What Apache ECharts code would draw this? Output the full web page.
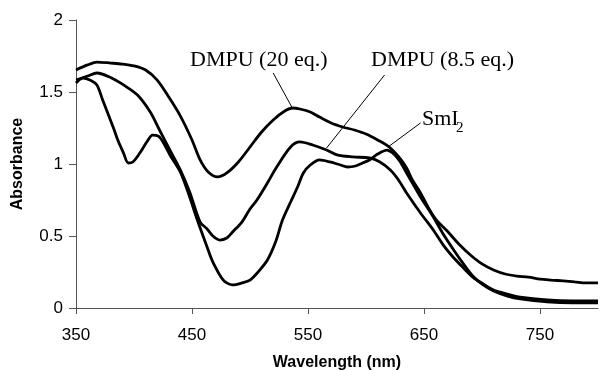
<!DOCTYPE html>
<html>
<head>
<meta charset="utf-8">
<script src="https://cdn.jsdelivr.net/npm/echarts@6/dist/echarts.min.js"></script>
<style>html,body{margin:0;padding:0;background:#fff}#c{width:600px;height:370px}</style>
</head>
<body>
<div id="c"></div>
<script>
// DMPU (20 eq.)
var wl20 = [350,360,368,380,390,400,410,420,430,440,450,457,464,472,480,490,500,510,520,530,537,543,552,560,570,580,590,600,610,620,629,635,640,647,653,660,670,680,690,700,710,720,730,740,750,760,770,780,790,800];
var abs20 = [1.653,1.688,1.708,1.701,1.694,1.681,1.653,1.583,1.465,1.333,1.167,1.028,0.944,0.910,0.938,1.014,1.118,1.222,1.306,1.368,1.389,1.382,1.361,1.326,1.285,1.257,1.236,1.208,1.167,1.118,1.042,0.972,0.889,0.799,0.708,0.618,0.535,0.444,0.368,0.306,0.264,0.236,0.222,0.215,0.201,0.194,0.188,0.181,0.174,0.174];
// DMPU (8.5 eq.)
var wl85 = [350,360,368,379,391,403,414,422,431,440,448,457,463,468,474,480,485,493,500,506,515,523,535,543,554,566,575,589,603,612,621,628,635,647,658,666,675,684,692,701,710,722,733,756,778,800];
var abs85 = [1.583,1.611,1.632,1.604,1.549,1.479,1.361,1.236,1.097,0.958,0.806,0.597,0.549,0.5,0.472,0.486,0.528,0.597,0.688,0.75,0.868,0.979,1.118,1.153,1.132,1.097,1.063,1.049,1.042,1.014,0.958,0.889,0.799,0.660,0.542,0.444,0.354,0.278,0.215,0.167,0.125,0.097,0.076,0.056,0.049,0.049];
// SmI2
var wlSm = [350,356,362,368,373,378,382,386,391,395,399,405,411,416,421,425,431,440,448,454,463,468,477,485,493,500,507,515,522,528,535,541,546,552,560,569,578,584,591,597,603,610,618,623,629,635,641,647,658,666,675,684,692,701,710,722,733,756,778,800];
var absSm = [1.563,1.597,1.583,1.549,1.444,1.340,1.257,1.167,1.076,1.007,1.014,1.076,1.153,1.201,1.194,1.153,1.063,0.944,0.771,0.625,0.424,0.319,0.194,0.160,0.174,0.194,0.25,0.333,0.458,0.611,0.736,0.840,0.938,0.993,1.028,1.014,0.993,0.979,0.986,1.007,1.028,1.069,1.097,1.076,1.021,0.938,0.854,0.771,0.632,0.521,0.410,0.306,0.222,0.160,0.118,0.083,0.063,0.042,0.035,0.035];

var xTicks = [350,450,550,650,750];
var yTicks = [0,0.5,1,1.5,2];

// leader lines (data coordinates: [wavelength, absorbance])
var lead20 = [[520,1.632],[536,1.396]];
var lead85 = [[616,1.618],[566,1.111]];
var leadSm = [[647,1.285],[619,1.118]];

function pairs(xs, ys){ return xs.map(function(x,i){ return [x, ys[i]]; }); }
function leader(p){
  return {
    silent:true, symbol:['none','none'], animation:false,
    lineStyle:{color:'#000', width:1, type:'solid'},
    label:{show:false},
    data:[[{coord:p[0]},{coord:p[1]}]]
  };
}

var chart = echarts.init(document.getElementById('c'), null, {renderer:'canvas'});
var lineStyle = {color:'#000', width:2.8};
chart.setOption({
  animation:false,
  backgroundColor:'#fff',
  grid:{left:76, right:2, top:20, bottom:62, containLabel:false, outerBoundsMode:'none'},
  xAxis:{
    type:'value', min:350, max:800,
    name:'Wavelength (nm)', nameLocation:'middle', nameGap:47,
    nameTextStyle:{fontFamily:'Liberation Sans', fontWeight:'bold', fontSize:16, color:'#000'},
    axisLine:{show:true, lineStyle:{color:'#555', width:1}},
    axisTick:{show:true, inside:false, length:6, customValues:xTicks, lineStyle:{color:'#555'}},
    axisLabel:{customValues:xTicks, margin:19, fontFamily:'Liberation Sans', fontSize:17, color:'#000'},
    splitLine:{show:false}
  },
  yAxis:{
    type:'value', min:0, max:2, interval:0.5,
    name:'Absorbance', nameLocation:'middle', nameGap:50,
    nameTextStyle:{fontFamily:'Liberation Sans', fontWeight:'bold', fontSize:16, color:'#000'},
    axisLine:{show:true, lineStyle:{color:'#555', width:1}},
    axisTick:{show:true, inside:false, length:7, customValues:yTicks, lineStyle:{color:'#555'}},
    axisLabel:{customValues:yTicks, margin:13, fontFamily:'Liberation Sans', fontSize:17, color:'#000'},
    splitLine:{show:false}
  },
  series:[
    {type:'line', name:'DMPU (20 eq.)', data:pairs(wl20, abs20), showSymbol:false, smooth:0.3, lineStyle:lineStyle, itemStyle:{color:'#000'}, markLine:leader(lead20)},
    {type:'line', name:'DMPU (8.5 eq.)', data:pairs(wl85, abs85), showSymbol:false, smooth:0.3, lineStyle:lineStyle, itemStyle:{color:'#000'}, markLine:leader(lead85)},
    {type:'line', name:'SmI2', data:pairs(wlSm, absSm), showSymbol:false, smooth:0.3, lineStyle:lineStyle, itemStyle:{color:'#000'}, markLine:leader(leadSm)}
  ],
  graphic:[
    {type:'text', left:190, top:49, style:{text:'DMPU (20 eq.)', font:'22px "Liberation Serif"', fill:'#000'}},
    {type:'text', left:371, top:49, style:{text:'DMPU (8.5 eq.)', font:'22px "Liberation Serif"', fill:'#000'}},
    {type:'text', left:422, top:108, style:{text:'SmI', font:'22px "Liberation Serif"', fill:'#000'}},
    {type:'text', left:456, top:121, style:{text:'2', font:'15px "Liberation Serif"', fill:'#000'}}
  ]
});
</script>
</body>
</html>
